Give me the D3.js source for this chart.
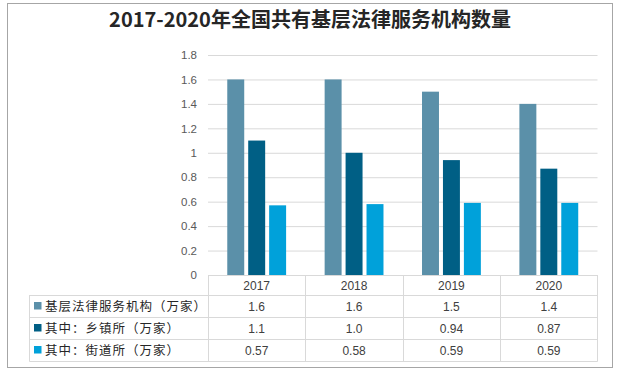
<!DOCTYPE html>
<html>
<head>
<meta charset="utf-8">
<script src="https://cdn.jsdelivr.net/npm/d3@7"></script>
<style>
  body { margin: 0; background: #fff; }
  text { font-family: "Liberation Sans", "Noto Sans CJK SC", sans-serif; }
</style>
</head>
<body>
<svg id="chart" width="618" height="372"></svg>
<script>
// data
const years = ["2017", "2018", "2019", "2020"]
const seriesNames = ["基层法律服务机构（万家）", "其中：乡镇所（万家）", "其中：街道所（万家）"]
const total = [1.6, 1.6, 1.5, 1.4]
const township = [1.1, 1.0, 0.94, 0.87]
const street = [0.57, 0.58, 0.59, 0.59]
const tableLabels = [
  ["1.6", "1.6", "1.5", "1.4"],
  ["1.1", "1.0", "0.94", "0.87"],
  ["0.57", "0.58", "0.59", "0.59"]
]
const yTicks = [0, 0.2, 0.4, 0.6, 0.8, 1, 1.2, 1.4, 1.6, 1.8]
const colors = ["#5b90a9", "#005f85", "#00a1da"]

const series = [total, township, street]

const svg = d3.select("#chart")

// outer frame
svg.append("rect")
  .attr("x", 7.5).attr("y", 3.5)
  .attr("width", 605).attr("height", 364)
  .attr("fill", "#fff")
  .attr("stroke", "#a6a6a6")

// title
svg.append("text")
  .text("2017-2020年全国共有基层法律服务机构数量")
  .attr("x", 310)
  .attr("y", 27)
  .attr("text-anchor", "middle")
  .attr("font-size", "20px")
  .attr("font-weight", "bold")
  .attr("fill", "#262626")
  .style("font-family", "'Noto Sans CJK SC', sans-serif")

const plotLeft = 208, plotRight = 597.5
const x = d3.scaleBand().domain(years).range([plotLeft, plotRight])
const y = d3.scaleLinear().domain([0, 1.8]).range([275, 55])
const xs = d3.scaleBand().domain(d3.range(3)).range([0, x.bandwidth()])
  .paddingInner(0.19).paddingOuter(0.92)

// gridlines + y labels
const yAxis = d3.axisLeft(y).tickValues(yTicks).tickSize(-(plotRight - plotLeft)).tickPadding(11)
  .tickFormat(d3.format("~g"))
const gy = svg.append("g").attr("transform", `translate(${plotLeft},0)`).call(yAxis)
gy.select(".domain").remove()
gy.selectAll(".tick line").attr("stroke", "#d9d9d9")
gy.selectAll(".tick text").attr("fill", "#595959").attr("font-size", "11.5px")
  .style("font-family", "'Liberation Sans', sans-serif")

// bars
series.forEach((vals, i) => {
  svg.append("g").selectAll("rect")
    .data(vals)
    .enter()
    .append("rect")
    .attr("x", (d, j) => x(years[j]) + xs(i))
    .attr("width", xs.bandwidth())
    .attr("y", d => y(d))
    .attr("height", d => y(0) - y(d))
    .attr("fill", colors[i])
})

// data table
const rowTops = [275, 295, 317, 339, 361]
const tableLeft = 29.5
const grid = svg.append("g").attr("stroke", "#d9d9d9").attr("fill", "none")
rowTops.forEach((ry, k) => {
  grid.append("line")
    .attr("x1", k === 0 ? plotLeft : tableLeft).attr("x2", plotRight)
    .attr("y1", ry + 0.5).attr("y2", ry + 0.5)
})
grid.append("line").attr("x1", tableLeft).attr("x2", tableLeft)
  .attr("y1", rowTops[1]).attr("y2", rowTops[4] + 0.5)
years.forEach(yr => {
  grid.append("line").attr("x1", Math.round(x(yr)) + 0.5).attr("x2", Math.round(x(yr)) + 0.5)
    .attr("y1", rowTops[0]).attr("y2", rowTops[4] + 0.5)
})
grid.append("line").attr("x1", plotRight).attr("x2", plotRight)
  .attr("y1", rowTops[0]).attr("y2", rowTops[4] + 0.5)

const cellText = (ry0, ry1) => (ry0 + ry1) / 2 + 4.5

svg.append("g").selectAll("text")
  .data(years)
  .enter()
  .append("text")
  .text(d => d)
  .attr("x", d => x(d) + x.bandwidth() / 2)
  .attr("y", cellText(rowTops[0], rowTops[1]))
  .attr("text-anchor", "middle")
  .attr("font-size", "12px")
  .attr("fill", "#404040")

tableLabels.forEach((row, i) => {
  const ty = cellText(rowTops[i + 1], rowTops[i + 2])
  svg.append("g").selectAll("text")
    .data(row)
    .enter()
    .append("text")
    .text(d => d)
    .attr("x", (d, j) => x(years[j]) + x.bandwidth() / 2)
    .attr("y", ty)
    .attr("text-anchor", "middle")
    .attr("font-size", "12px")
    .attr("fill", "#404040")

  svg.append("rect")
    .attr("x", 34).attr("y", ty - 8.5)
    .attr("width", 7.5).attr("height", 7.5)
    .attr("fill", colors[i])

  svg.append("text")
    .text(seriesNames[i])
    .attr("x", 45)
    .attr("y", ty)
    .attr("font-size", "12.5px")
    .attr("letter-spacing", "1px")
    .attr("fill", "#262626")
    .style("font-family", "'Noto Sans CJK SC', sans-serif")
})
</script>
</body>
</html>
